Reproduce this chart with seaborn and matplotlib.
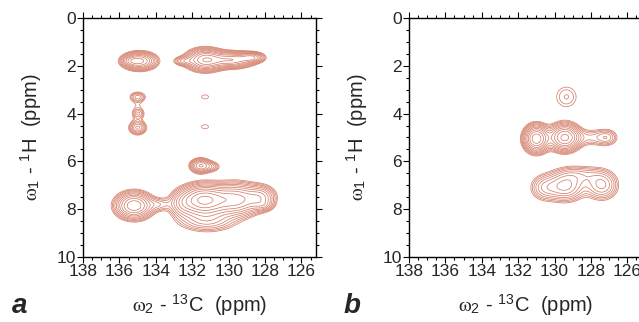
import matplotlib
matplotlib.use("Agg")
import matplotlib.pyplot as plt
import numpy as np
import seaborn as sns
from matplotlib.ticker import MultipleLocator

sns.set_theme(style="ticks")
plt.rcParams["font.family"] = ["Liberation Sans", "DejaVu Sans"]
plt.rcParams["mathtext.fontset"] = "stix"
line = "#d5806c"

# peak lists: 13C shift, 1H shift, widths (ppm), height (x lowest level)
a_c = [134.9, 135.4, 132.5, 131.3, 129.8, 128.7, 135.0, 134.95, 135.0, 135.0, 131.3, 131.3,
       131.55, 130.9, 135.2, 133.8, 131.4, 129.6, 128.2, 132.6, 131.2, 128.1]
a_h = [1.8, 1.8, 1.8, 1.75, 1.75, 1.65, 3.3, 4.0, 4.6, 3.95, 3.3, 4.55,
       6.18, 6.22, 7.85, 7.8, 7.62, 7.6, 7.5, 7.8, 8.5, 7.85]
a_wc = [0.55, 0.3, 0.35, 0.6, 0.7, 0.4, 0.3, 0.2, 0.3, 0.28, 0.36, 0.36,
        0.34, 0.3, 0.6, 0.4, 0.75, 0.8, 0.5, 0.45, 1.0, 0.35]
a_wh = [0.22, 0.12, 0.12, 0.27, 0.2, 0.13, 0.13, 0.12, 0.17, 0.55, 0.16, 0.16,
        0.18, 0.14, 0.33, 0.18, 0.37, 0.4, 0.3, 0.35, 0.3, 0.15]
a_amp = [8, 2, 2.5, 9, 7, 5, 2.2, 1.5, 3.5, 1.15, 1.15, 1.15,
         6, 2, 9, 1.8, 12, 8, 4, 2.5, 3, 1.5]

b_c = [129.35, 131.0, 129.45, 127.8, 127.1, 129.4, 127.4, 130.6, 128.6]
b_h = [3.3, 5.05, 5.0, 5.0, 5.0, 7.05, 7.0, 7.1, 6.55]
b_wc = [0.55, 0.4, 0.5, 0.7, 0.35, 0.65, 0.55, 0.5, 0.8]
b_wh = [0.42, 0.33, 0.33, 0.24, 0.22, 0.38, 0.38, 0.35, 0.25]
b_amp = [1.6, 11, 10, 2, 1.8, 5, 4, 2.5, 2]

levels = 1.0 * 1.25 ** np.arange(14)

C, H = np.meshgrid(np.linspace(124, 139, 500), np.linspace(-0.5, 10.5, 500))


def spectrum(c, h, wc, wh, amp):
    z = np.zeros_like(C)
    for c0, h0, sc, sh, a in zip(c, h, wc, wh, amp):
        z += a * np.exp(-0.5 * ((C - c0) / sc) ** 2 - 0.5 * ((H - h0) / sh) ** 2)
    return z


fig = plt.figure(figsize=(6.39, 3.22), dpi=100)
ax_a = fig.add_axes([0.130, 0.202, 0.3646, 0.742])
ax_b = fig.add_axes([0.640, 0.202, 0.3646, 0.742])

for ax, peaks, tag, tx in [(ax_a, (a_c, a_h, a_wc, a_wh, a_amp), "a", 0.018),
                           (ax_b, (b_c, b_h, b_wc, b_wh, b_amp), "b", 0.538)]:
    ax.contour(C, H, spectrum(*peaks), levels=levels, colors=line, linewidths=0.55)
    ax.set_xlim(138, 125.2)
    ax.set_ylim(10, 0)
    ax.xaxis.set_major_locator(MultipleLocator(2))
    ax.xaxis.set_minor_locator(MultipleLocator(0.5))
    ax.yaxis.set_major_locator(MultipleLocator(2))
    ax.yaxis.set_minor_locator(MultipleLocator(0.5))
    ax.tick_params(which="both", direction="out", top=True, right=True,
                   labeltop=False, labelright=False, color="black", width=0.8)
    ax.tick_params(which="major", length=4, pad=1, labelsize=12.5)
    ax.tick_params(which="minor", length=2.5)
    for s in ax.spines.values():
        s.set_visible(True)
        s.set_color("black")
        s.set_linewidth(1.0)
    ax.set_xlabel(r"$\mathrm{\omega}_\mathregular{2}$ - $^\mathregular{13}$C  (ppm)",
                  fontsize=14.5, labelpad=10)
    ax.set_ylabel(r"$\mathrm{\omega}_\mathregular{1}$ - $^\mathregular{1}$H  (ppm)",
                  fontsize=14.5, labelpad=9)
    fig.text(tx, 0.028, tag, fontsize=20, weight="bold", style="italic")

fig.savefig("out.png", dpi=100)
